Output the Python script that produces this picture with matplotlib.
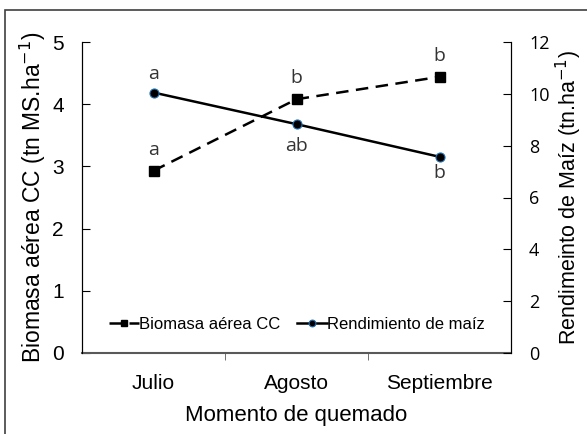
import matplotlib.pyplot as plt
from matplotlib.patches import Rectangle
import numpy as np

meses = ["Julio", "Agosto", "Septiembre"]
biomasa = [2.93, 4.08, 4.44]
rendimiento = [10.05, 8.83, 7.57]
letras_biomasa = ["a", "b", "b"]
letras_rend = ["a", "ab", "b"]

plt.rcParams['font.family'] = ['Liberation Sans', 'DejaVu Sans']
letra_font = ["Open Sans", "DejaVu Sans"]

fig = plt.figure(figsize=(5.87, 4.34), dpi=100)
fig.patches.append(Rectangle((5 / 587, -0.1), 1.2, 1 - 10 / 434 + 0.1, transform=fig.transFigure,
                             fill=False, edgecolor="#404040", linewidth=1.2))
ax = fig.add_axes([82 / 587, 81 / 434, 429 / 587, 311 / 434])
ax2 = ax.twinx()

x = np.arange(len(meses))
l1, = ax.plot(x, biomasa, color="black", linestyle=(0, (5, 3)), linewidth=1.8,
              marker="s", markersize=6.5, label="Biomasa aérea CC")
l2, = ax2.plot(x, rendimiento, color="black", linewidth=1.8, marker="o", markersize=6.5,
               markeredgecolor="#1f6fb0", markeredgewidth=0.8, label="Rendimiento de maíz")

ax.set_xlim(-0.5, 2.5)
ax.set_ylim(0, 5)
ax2.set_ylim(0, 12)
ax.set_yticks(range(0, 6))
ax2.set_yticks(range(0, 13, 2))
ax.set_xticks(x)
ax.set_xticklabels(meses, fontsize=15)
ax.set_xticks([0.5, 1.5], minor=True)
ax.tick_params(axis="x", which="major", length=0, pad=15)
ax.tick_params(axis="x", which="minor", length=5, color="#595959")
ax.tick_params(axis="y", direction="in", length=6, labelsize=15, pad=13)
ax2.tick_params(axis="y", direction="in", length=6, labelsize=13, pad=13)
for lab in ax2.get_yticklabels():
    lab.set_family(letra_font)

ax.spines["top"].set_visible(False)
ax2.spines["top"].set_visible(False)
ax.spines["bottom"].set_color("#595959")
ax.spines["bottom"].set_linewidth(1.5)
ax2.spines["bottom"].set_visible(False)

for i in range(len(meses)):
    ax.annotate(letras_biomasa[i], (x[i], biomasa[i]), xytext=(0, 15), textcoords="offset points",
                ha="center", va="center", fontsize=14, family=letra_font, color="#333333")
ax2.annotate(letras_rend[0], (x[0], rendimiento[0]), xytext=(0, 13), textcoords="offset points",
             ha="center", va="center", fontsize=14, family=letra_font, color="#333333")
for i, dy in [(1, -16), (2, -12)]:
    ax2.annotate(letras_rend[i], (x[i], rendimiento[i]), xytext=(0, dy), textcoords="offset points",
                 ha="center", va="center", fontsize=14, family=letra_font, color="#333333")

ax.set_xlabel("Momento de quemado", fontsize=16, labelpad=9)
ax.set_ylabel("Biomasa aérea CC (tn MS.ha$^{-1}$)", fontsize=16.5, labelpad=3)
ax2.set_ylabel("Rendimeinto de Maíz (tn.ha$^{-1}$)", fontsize=15.5, labelpad=3)

ax.legend([l1, l2], ["Biomasa aérea CC", "Rendimiento de maíz"], loc="lower center",
          ncol=2, frameon=False, fontsize=12, handlelength=1.8, handletextpad=0.0,
          columnspacing=1.0, bbox_to_anchor=(0.5, 0.02), markerscale=0.75)

fig.savefig("out.png", dpi=100)
